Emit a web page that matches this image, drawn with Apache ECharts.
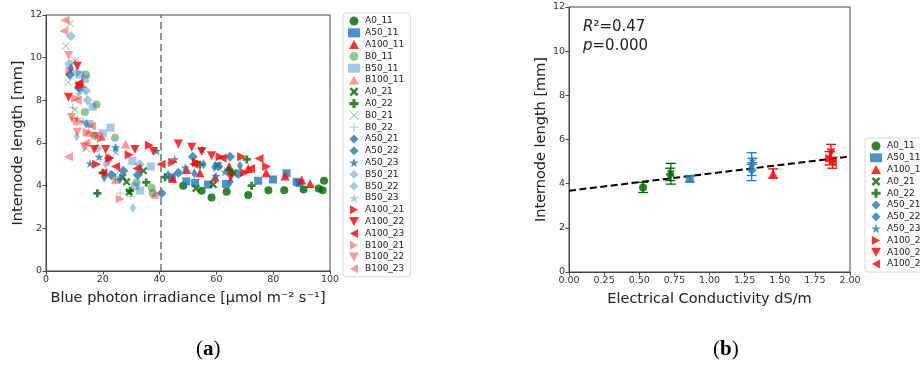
<!DOCTYPE html>
<html><head><meta charset="utf-8">
<script src="https://cdn.jsdelivr.net/npm/echarts@6/dist/echarts.min.js"></script>
<style>html,body{margin:0;padding:0;background:#fff}#c{width:920px;height:367px}</style>
</head><body><div id="c"></div>
<script>
// ---------- Panel (a) data: [blue photon irradiance, internode length] ----------
const A0_11 = [[48.3,4.0],[54.8,3.76],[58.3,3.45],[63.6,3.71],[71.2,3.56],[78.3,3.79],[83.9,3.79],[90.7,3.82],[96.0,3.87],[97.4,3.79],[97.9,4.23]];
const A50_11 = [[44.3,4.39],[49.4,4.2],[52.5,4.13],[57.0,4.05],[63.4,4.08],[74.7,4.23],[79.9,4.29],[84.7,4.58],[88.3,4.18],[89.2,4.12]];
const A100_11 = [[44.6,4.34],[49.5,4.76],[54.2,4.6],[59.5,4.4],[64.5,4.9],[71.2,4.8],[77.5,4.6],[84.2,4.45],[90.0,4.26],[93.0,4.1]];
const B0_11 = [[14.1,9.2],[17.8,7.8],[13.7,7.45],[17.0,6.35],[24.3,6.25],[31.9,4.15],[37.2,3.9],[37.6,3.65]];
const B50_11 = [[12.0,9.2],[13.7,9.0],[16.4,7.7],[15.3,6.9],[20.0,6.45],[22.7,6.72],[30.4,5.16],[31.4,3.98],[33.1,3.77],[36.9,4.9]];
const B100_11 = [[12.5,8.8],[15.0,6.5],[19.5,6.3],[24.5,4.3],[28.0,5.95],[38.4,3.6]];
const A0_21 = [[27.0,4.4],[28.4,4.18],[29.3,3.7],[34.3,4.7],[52.8,3.87],[58.9,4.05],[60.5,4.95],[66.0,4.6]];
const A0_22 = [[18.1,3.64],[20.0,4.6],[29.6,3.76],[35.3,4.15],[41.9,4.4],[54.2,4.98],[64.4,4.73],[65.5,4.6],[70.7,5.23],[72.4,4.0]];
const B0_21 = [[8.5,11.6],[6.9,10.55],[10.2,9.85],[7.9,8.85],[10.2,7.55],[14.1,5.75],[24.5,4.5],[13.0,8.5]];
const B0_22 = [[9.4,7.65],[11.0,7.15],[10.2,9.85],[26.1,3.65],[29.8,3.5],[12.5,8.6],[24.5,4.3]];
const A50_21 = [[8.4,9.2],[11.5,8.6],[23.0,4.5],[27.2,4.7],[32.3,4.5],[40.7,3.65],[46.6,4.6],[51.7,5.35],[60.7,4.9],[64.8,5.35],[67.7,4.55]];
const A50_22 = [[8.8,9.5],[20.5,4.4],[26.0,4.3],[43.0,4.5],[52.2,4.57],[55.5,5.0],[59.3,4.88],[65.0,4.2],[68.3,4.93]];
const A50_23 = [[15.5,5.04],[18.7,5.35],[24.5,5.8],[39.0,5.63],[45.3,5.23],[49.0,4.85],[55.0,5.7],[59.9,4.45],[63.0,4.65]];
const B50_21 = [[8.8,11.0],[8.2,9.7],[10.8,9.3],[14.1,8.45],[14.6,8.0],[18.1,5.75],[22.0,5.3],[33.0,5.0]];
const B50_22 = [[10.8,6.3],[14.1,6.9],[24.6,5.75],[30.6,2.95],[12.0,8.5],[21.0,5.0]];
const B50_23 = [[11.5,8.3],[14.5,6.9],[22.5,5.3],[24.5,5.6],[33.0,4.9],[13.0,7.0]];
const A100_21 = [[12.0,8.7],[17.8,5.0],[22.5,5.3],[29.3,5.45],[36.4,5.9],[44.6,5.1],[53.0,5.1],[61.3,5.35],[68.9,5.35],[77.7,4.9],[70.0,4.6]];
const A100_22 = [[7.9,8.15],[11.0,9.6],[17.0,5.7],[21.0,5.7],[31.3,5.7],[37.8,5.6],[46.6,5.95],[51.3,5.8],[54.8,5.6],[58.3,5.4],[65.0,4.4]];
const A100_23 = [[11.5,8.8],[20.0,4.6],[24.5,4.9],[32.0,4.8],[40.5,5.0],[52.0,5.0],[62.0,5.3],[72.0,4.8],[75.0,5.27]];
const B100_21 = [[8.5,9.4],[10.5,8.1],[12.0,7.0],[14.5,6.5],[19.5,6.2],[26.1,3.37]];
const B100_22 = [[8.0,10.1],[9.0,7.2],[10.0,7.0],[11.0,6.5],[13.5,5.8],[17.5,6.3],[22.0,5.1]];
const B100_23 = [[6.7,11.75],[6.3,11.25],[7.9,5.35],[11.0,8.0],[16.0,6.8],[14.0,6.0]];
const thresholdX = 40.5;

// ---------- Panel (b) data ----------
const rightNames = ['A0_11','A50_11','A100_11','A0_21','A0_22','A50_21','A50_22','A50_23','A100_21','A100_22','A100_23'];
const ecX   = [0.527, 0.86, 1.453, 0.725, 0.72, 1.30, 1.30, 1.305, 1.855, 1.865, 1.875];
const ecY   = [3.83, 4.22, 4.46, 4.45, 4.42, 4.62, 4.77, 5.05, 5.15, 5.40, 4.95];
const ecErr = [0.23, 0.14, 0.21, 0.47, 0.28, 0.25, 0.63, 0.10, 0.30, 0.38, 0.25];
const regX = [0, 2];
const regY = [3.68, 5.23];
const r2Text = '0.47';
const pText = '0.000';

// ---------- styles ----------
const DG='#006400', BL='#1f77b4', RD='#ff0000';
const DGa='rgba(0,100,0,0.5)', BLa='rgba(31,119,180,0.5)', RDa='rgba(255,0,0,0.5)';
const P = {
  star:'path://M50,0L61.8,35.5L100,35.5L69.1,57.4L80.9,92.7L50,70.8L19.1,92.7L30.9,57.4L0,35.5L38.2,35.5Z',
  X:'path://M2,0L5,3L8,0L10,2L7,5L10,8L8,10L5,7L2,10L0,8L3,5L0,2Z',
  plus:'path://M3.3,0H6.7V3.3H10V6.7H6.7V10H3.3V6.7H0V3.3H3.3Z',
  x:'path://M0.7,0L5,4.3L9.3,0L10,0.7L5.7,5L10,9.3L9.3,10L5,5.7L0.7,10L0,9.3L4.3,5L0,0.7Z',
  p:'path://M4.55,0H5.45V4.55H10V5.45H5.45V10H4.55V5.45H0V4.55H4.55Z',
  D:'path://M5,0L10,5L5,10L0,5Z',
  tdown:'path://M0,0L10,0L5,9Z',
  tright:'path://M0,0L9,5L0,10Z',
  tleft:'path://M9,0L0,5L9,10Z',
  tup:'path://M5,0L10,9L0,9Z'
};
const ST = {
  A0_11:[DG,'circle',8], A50_11:[BL,'rect',8], A100_11:[RD,P.tup,9],
  B0_11:[DGa,'circle',8], B50_11:[BLa,'rect',8], B100_11:[RDa,P.tup,9],
  A0_21:[DG,P.X,8], A0_22:[DG,P.plus,8], B0_21:[DGa,P.x,8], B0_22:[DGa,P.p,8],
  A50_21:[BL,P.D,10], A50_22:[BL,P.D,[6,10]], A50_23:[BL,P.star,9],
  B50_21:[BLa,P.D,10], B50_22:[BLa,P.D,[6,10]], B50_23:[BLa,P.star,9],
  A100_21:[RD,P.tright,9], A100_22:[RD,P.tdown,9], A100_23:[RD,P.tleft,9],
  B100_21:[RDa,P.tright,9], B100_22:[RDa,P.tdown,9], B100_23:[RDa,P.tleft,9]
};
const leftSets = {A0_11,A50_11,A100_11,B0_11,B50_11,B100_11,A0_21,A0_22,B0_21,B0_22,A50_21,A50_22,A50_23,B50_21,B50_22,B50_23,A100_21,A100_22,A100_23,B100_21,B100_22,B100_23};
const leftNames = Object.keys(leftSets);

const FONT='DejaVu Sans';
const axisCommon = {
  axisLine:{show:true,lineStyle:{color:'#444',width:1}},
  axisTick:{show:true,length:3.5,lineStyle:{color:'#444'}},
  axisLabel:{color:'#333',fontSize:9.5,fontFamily:FONT,margin:4},
  splitLine:{show:false},
  nameLocation:'middle',
  nameTextStyle:{color:'#222',fontSize:14.5,fontFamily:FONT}
};

const series = [];
leftNames.forEach((n,i)=>{
  const s = ST[n];
  const o = {name:n,type:'scatter',xAxisIndex:0,yAxisIndex:0,data:leftSets[n],
    symbol:s[1],symbolSize:s[2],itemStyle:{color:s[0]},z:2};
  if(i===0){
    o.markLine={silent:true,symbol:['none','none'],label:{show:false},
      lineStyle:{color:'#777',type:[7,4],width:1.6},data:[{xAxis:thresholdX}]};
  }
  series.push(o);
});
// regression line
series.push({name:'fit',type:'line',xAxisIndex:1,yAxisIndex:1,data:regX.map((x,i)=>[x,regY[i]]),
  symbol:'none',lineStyle:{color:'#000',type:[7,3.5],width:2},z:1,silent:true});
// error bars
series.push({name:'err',type:'custom',xAxisIndex:1,yAxisIndex:1,z:2,silent:true,
  data:rightNames.map((n,i)=>[ecX[i],ecY[i],ecErr[i],i]),
  encode:{x:0,y:1},
  renderItem:function(params,api){
    const x=api.value(0),y=api.value(1),e=api.value(2),ci=api.value(3);
    const c=ST[rightNames[ci]][0];
    const t=api.coord([x,y+e]), b=api.coord([x,y-e]); const w=5;
    const st={stroke:c,lineWidth:1.3};
    return {type:'group',children:[
      {type:'line',shape:{x1:t[0],y1:t[1],x2:b[0],y2:b[1]},style:st},
      {type:'line',shape:{x1:t[0]-w,y1:t[1],x2:t[0]+w,y2:t[1]},style:st},
      {type:'line',shape:{x1:b[0]-w,y1:b[1],x2:b[0]+w,y2:b[1]},style:st}
    ]};
  }});
rightNames.forEach((n,i)=>{
  const s=ST[n];
  series.push({name:n,type:'scatter',xAxisIndex:1,yAxisIndex:1,data:[[ecX[i],ecY[i]]],
    symbol:s[1],symbolSize:s[2],itemStyle:{color:s[0]},z:3});
});

const legendCommon = {orient:'vertical',itemWidth:12,itemHeight:9,
  textStyle:{color:'#222',fontSize:9,fontFamily:FONT,lineHeight:10},
  borderColor:'#d8d8d8',borderWidth:1,borderRadius:3,selectedMode:false};

const option = {
  animation:false,
  backgroundColor:'#fff',
  grid:[
    {left:46,top:15,width:284,height:256,show:true,borderColor:'#444',borderWidth:1},
    {left:569,top:7,width:281,height:265,show:true,borderColor:'#444',borderWidth:1}
  ],
  xAxis:[
    Object.assign({},axisCommon,{gridIndex:0,type:'value',min:0,max:100,interval:20,
      name:'Blue photon irradiance [μmol m⁻² s⁻¹]',nameGap:20}),
    Object.assign({},axisCommon,{gridIndex:1,type:'value',min:0,max:2,interval:0.25,
      axisLabel:Object.assign({},axisCommon.axisLabel,{formatter:v=>v.toFixed(2)}),
      name:'Electrical Conductivity dS/m',nameGap:20})
  ],
  yAxis:[
    Object.assign({},axisCommon,{gridIndex:0,type:'value',min:0,max:12,interval:2,
      name:'Internode length [mm]',nameGap:20}),
    Object.assign({},axisCommon,{gridIndex:1,type:'value',min:0,max:12,interval:2,
      name:'Internode length [mm]',nameGap:20})
  ],
  legend:[
    Object.assign({},legendCommon,{data:leftNames,left:343,top:13,padding:[3,6,3,5],itemGap:1.8}),
    Object.assign({},legendCommon,{data:rightNames,left:865,top:138,padding:[3,6,3,5],itemGap:1.8})
  ],
  graphic:[
    {type:'text',left:583,top:20,style:{text:'{i|R}²=' + r2Text,fontSize:15,fontFamily:FONT,fill:'#222',
      rich:{i:{fontStyle:'italic',fontSize:15,fontFamily:FONT}}}},
    {type:'text',left:583,top:39,style:{text:'{i|p}=' + pText,fontSize:15,fontFamily:FONT,fill:'#222',
      rich:{i:{fontStyle:'italic',fontSize:15,fontFamily:FONT}}}},
    {type:'text',left:196,top:339,style:{text:'({b|a})',fontSize:21,fontFamily:'Liberation Serif',fill:'#000',
      rich:{b:{fontWeight:'bold',fontSize:21,fontFamily:'Liberation Serif'}}}},
    {type:'text',left:713,top:339,style:{text:'({b|b})',fontSize:21,fontFamily:'Liberation Serif',fill:'#000',
      rich:{b:{fontWeight:'bold',fontSize:21,fontFamily:'Liberation Serif'}}}}
  ],
  series:series
};
const chart = echarts.init(document.getElementById('c'),null,{renderer:'canvas'});
chart.setOption(option);
</script>
</body></html>
